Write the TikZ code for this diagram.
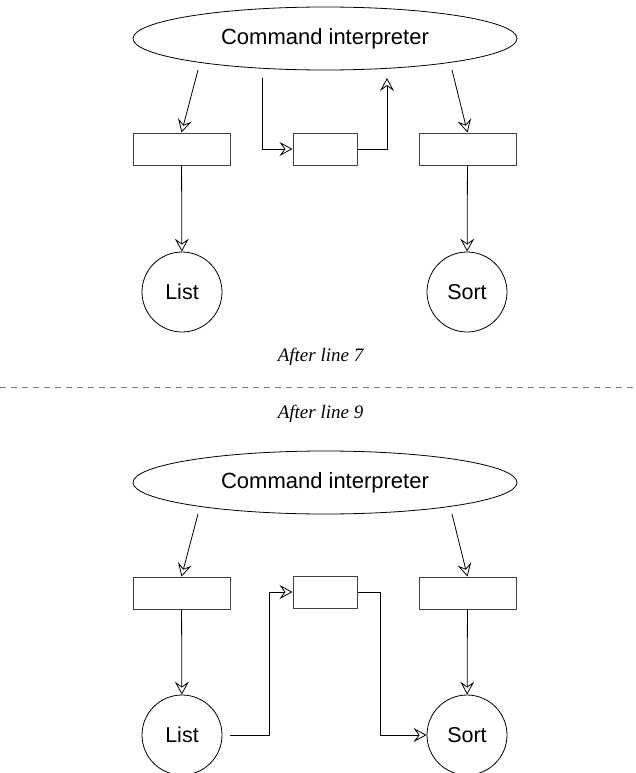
\documentclass[tikz,border=0pt]{standalone}
\usepackage{fontspec}
\setmainfont{Liberation Serif}
\newfontfamily\diagsans{Liberation Sans}
\usepackage{tikz}
\usetikzlibrary{arrows.meta, shapes.geometric, positioning}

\tikzset{
    proc/.style={ellipse, draw, line width=0.8pt, minimum width=384pt, minimum height=63pt, inner sep=0pt,
        font=\diagsans\fontsize{22}{26}\selectfont},
    buf/.style={rectangle, draw=black!75, line width=1pt, minimum width=97pt, minimum height=32pt, inner sep=0pt},
    pipebox/.style={buf, minimum width=64pt},
    prog/.style={circle, draw, line width=0.8pt, minimum size=80pt, inner sep=0pt,
        font=\diagsans\fontsize{21.5}{25}\selectfont},
    caption/.style={font=\itshape\fontsize{19}{23}\selectfont},
    link/.style={->, line width=0.8pt}
}

\begin{document}
\begin{tikzpicture}[x=1pt, y=-1pt, >={Stealth[open, length=13pt, width=14pt, inset=5pt]}]
    \useasboundingbox (0,0) rectangle (635,773);

    % after line 7
    \node[proc] (cmdA) at (325,38.5) {Command interpreter};
    \node[buf] (bufLA) at (181.5,149) {};
    \node[pipebox] (pipeA) at (325,149) {};
    \node[buf] (bufRA) at (467.5,149) {};
    \node[prog] (listA) at (182,292) {List};
    \node[prog] (sortA) at (467,292) {Sort};
    \coordinate (outLA) at (198,70);
    \coordinate (outMA) at (262,78);
    \coordinate (inMA) at (387,78);
    \coordinate (outRA) at (452,70);
    \draw[link] (outLA) -- (bufLA.north);
    \draw[link] (outMA) |- (pipeA.west);
    \draw[link] (pipeA.east) -| (inMA);
    \draw[link] (outRA) -- (bufRA.north);
    \draw[link] (bufLA) -- (listA);
    \draw[link] (bufRA) -- (sortA);
    \node[caption] (capA) at (320.5,357) {After line 7};

    \draw[dashed, dash pattern=on 6pt off 5pt, gray, line width=1pt] (0,387) -- (635,387);

    % after line 9
    \node[caption] (capB) at (320.5,414) {After line 9};
    \begin{scope}[shift={(0,444)}]
        \node[proc] (cmdB) at (325,38.5) {Command interpreter};
        \node[buf] (bufLB) at (181.5,149) {};
        \node[pipebox] (pipeB) at (325,148) {};
        \node[buf] (bufRB) at (467.5,149) {};
        \node[prog] (listB) at (182,291) {List};
        \node[prog] (sortB) at (467,291) {Sort};
        \coordinate (outLB) at (198,70);
        \coordinate (outRB) at (452,70);
        \draw[link] (outLB) -- (bufLB.north);
        \draw[link] (outRB) -- (bufRB.north);
        \draw[link] (bufLB) -- (listB);
        \draw[link] (bufRB) -- (sortB);
        \draw[link, shorten <=8pt] (listB.east) -- ++(47,0) |- (pipeB.west);
        \draw[link] (pipeB.east) -- ++(23,0) |- (sortB.west);
    \end{scope}
\end{tikzpicture}
\end{document}
